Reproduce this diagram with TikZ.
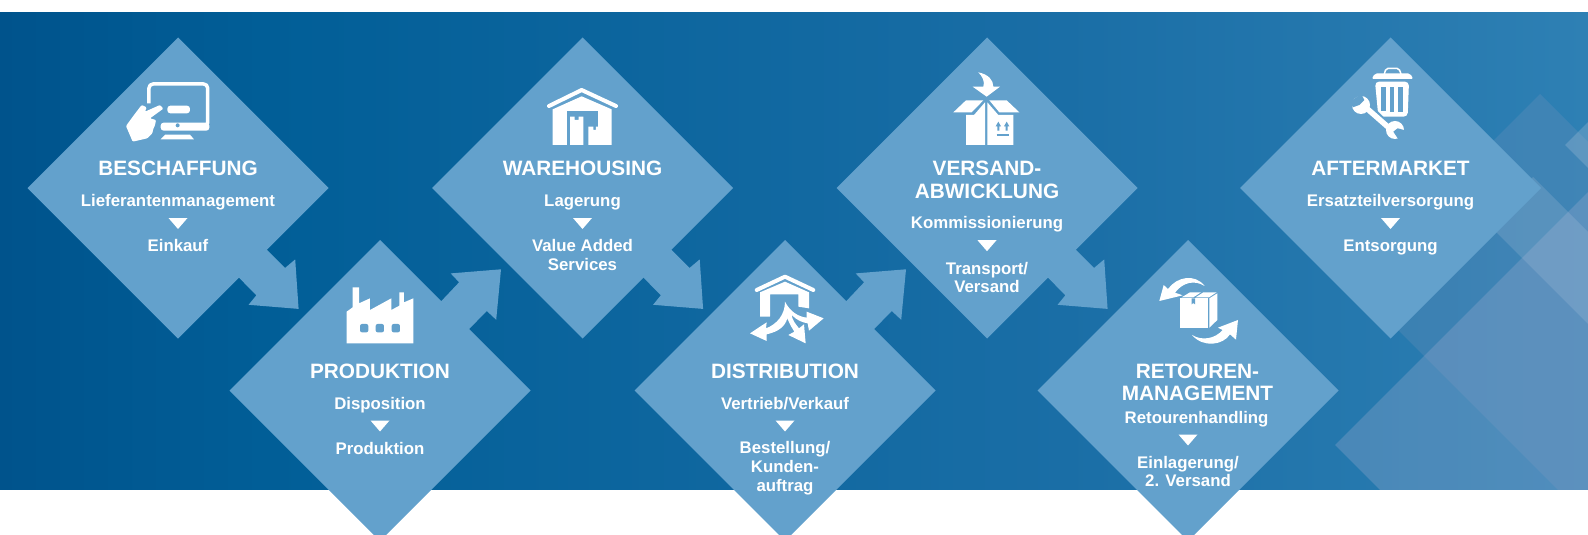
\documentclass[tikz,border=0pt]{standalone}
\usepackage{fontspec}
\setmainfont{Liberation Sans}
\usetikzlibrary{shapes.geometric,calc}
\definecolor{bgA}{RGB}{0,83,140}
\definecolor{bgB}{RGB}{1,94,151}
\definecolor{bgC}{RGB}{26,110,166}
\definecolor{bgD}{RGB}{46,128,180}
\definecolor{panel}{RGB}{99,161,204}
\definecolor{decoA}{RGB}{160,175,210}
\definecolor{decoB}{RGB}{120,150,190}
\definecolor{decoC}{RGB}{190,205,225}
\pgfdeclarehorizontalshading{bgshade}{100bp}{color(0bp)=(bgA); color(25bp)=(bgA); color(33.3bp)=(bgB); color(58.5bp)=(bgC); color(75bp)=(bgD); color(100bp)=(bgD)}
\tikzset{
  panelbox/.style={diamond,aspect=1,fill=panel,draw=none,inner sep=0pt,outer sep=0pt,minimum width=301pt,minimum height=301pt},
  headt/.style={text=white,anchor=base,inner sep=0pt,font=\fontsize{20.8}{22}\selectfont\bfseries},
  subt/.style={text=white,anchor=base,inner sep=0pt,font=\fontsize{16.8}{18}\selectfont\bfseries},
  ico/.style={x=0.3333pt,y=-0.3333pt},
  wh/.style={fill=white,draw=none},
  cut/.style={fill=panel,draw=none},
  roofline/.style={draw=white,line width=4pt,line cap=round,line join=round}
}
\newcommand{\arrowDown}[1]{\fill[panel] ([shift={(82,55)}]#1.center) -- ([shift={(107,80)}]#1.center) -- ([shift={(117.2,71.4)}]#1.center) -- ([shift={(120.6,120.9)}]#1.center) -- ([shift={(70.6,116.8)}]#1.center) -- ([shift={(78.4,107.2)}]#1.center) -- ([shift={(53.5,82.2)}]#1.center) -- cycle;}
\newcommand{\arrowUp}[1]{\fill[panel] ([shift={(54.8,-82.5)}]#1.center) -- ([shift={(79.1,-108.2)}]#1.center) -- ([shift={(70.7,-117.1)}]#1.center) -- ([shift={(121,-121.2)}]#1.center) -- ([shift={(116.2,-70.7)}]#1.center) -- ([shift={(106.8,-79.5)}]#1.center) -- ([shift={(81.9,-54.1)}]#1.center) -- cycle;}
\newcommand{\marker}[2]{\fill[white] ([shift={(-9.5,#2-5.5)}]#1.center) -- ([shift={(9.5,#2-5.5)}]#1.center) -- ([shift={(0,#2+5.5)}]#1.center) -- cycle;}
\begin{document}
\begin{tikzpicture}[x=1pt,y=-1pt]
\useasboundingbox (0,0) rectangle (1588,535);
\clip (0,0) rectangle (1588,535);
\shade[shading=bgshade] (0,12.5) rectangle (1588,489);
\begin{scope}
  \clip (0,12.5) rectangle (1588,489);
  \fill[decoB,opacity=.25] (1351,283) -- (1540,94) -- (1840,394) -- (1651,583) -- cycle;
  \fill[decoA,opacity=.3] (1335,445) -- (1635,145) -- (2035,545) -- (1735,845) -- cycle;
  \fill[decoC,opacity=.2] (1487,223) -- (1533,177) -- (1833,477) -- (1787,523) -- cycle;
  \fill[decoC,opacity=.25] (1565,145) -- (1665,45) -- (1765,145) -- (1665,245) -- cycle;
\end{scope}
% panels
\node[panelbox] (d1) at (178,188) {};
\node[panelbox] (d2) at (380,390.5) {};
\node[panelbox] (d3) at (582.5,188) {};
\node[panelbox] (d4) at (785,390.5) {};
\node[panelbox] (d5) at (987,188) {};
\node[panelbox] (d6) at (1188,390.5) {};
\node[panelbox] (d7) at (1390.5,188) {};
\arrowDown{d1}\arrowUp{d2}\arrowDown{d3}\arrowUp{d4}\arrowDown{d5}
% texts
\node[headt] (t1a) at ([shift={(0,-12.2)}]d1) {BESCHAFFUNG};
\node[subt] (t1b) at ([shift={(0,18.5)}]d1) {Lieferantenmanagement};
\marker{d1}{35.5}
\node[subt] (t1c) at ([shift={(0,63.5)}]d1) {Einkauf};
\node[headt] (t2a) at ([shift={(0,-12.2)}]d2) {PRODUKTION};
\node[subt] (t2b) at ([shift={(0,18.5)}]d2) {Disposition};
\marker{d2}{35.5}
\node[subt] (t2c) at ([shift={(0,63.5)}]d2) {Produktion};
\node[headt] (t3a) at ([shift={(0,-12.2)}]d3) {WAREHOUSING};
\node[subt] (t3b) at ([shift={(0,18.5)}]d3) {Lagerung};
\marker{d3}{35.5}
\node[subt] (t3c) at ([shift={(0,63.5)}]d3) {Value Added};
\node[subt] (t3d) at ([shift={(0,82.5)}]d3) {Services};
\node[headt] (t4a) at ([shift={(0,-12.2)}]d4) {DISTRIBUTION};
\node[subt] (t4b) at ([shift={(0,18.5)}]d4) {Vertrieb/Verkauf};
\marker{d4}{35.5}
\node[subt] (t4c) at ([shift={(0,63.1)}]d4) {Bestellung/};
\node[subt] (t4d) at ([shift={(0,82)}]d4) {Kunden-};
\node[subt] (t4e) at ([shift={(0,100.7)}]d4) {auftrag};
\node[headt] (t5a) at ([shift={(0,-12.2)}]d5) {VERSAND-};
\node[headt] (t5b) at ([shift={(0,10)}]d5) {ABWICKLUNG};
\node[subt] (t5c) at ([shift={(0,40.7)}]d5) {Kommissionierung};
\marker{d5}{57.7}
\node[subt] (t5d) at ([shift={(0,86)}]d5) {Transport/};
\node[subt] (t5e) at ([shift={(0,104.8)}]d5) {Versand};
\node[headt] (t6a) at ([shift={(9.5,-12.4)}]d6) {RETOUREN-};
\node[headt] (t6b) at ([shift={(9.5,9.5)}]d6) {MANAGEMENT};
\node[subt] (t6c) at ([shift={(8.6,33)}]d6) {Retourenhandling};
\marker{d6}{49.5}
\node[subt] (t6d) at ([shift={(0,77.8)}]d6) {Einlagerung/};
\node[subt] (t6e) at ([shift={(0,95.9)}]d6) {2. Versand};
\node[headt] (t7a) at ([shift={(0,-12.2)}]d7) {AFTERMARKET};
\node[subt] (t7b) at ([shift={(0,18.5)}]d7) {Ersatzteilversorgung};
\marker{d7}{35.5}
\node[subt] (t7c) at ([shift={(0,63.5)}]d7) {Entsorgung};
% icon 1: monitor and hand
\begin{scope}[shift={(110,70)},ico]
  \draw[white,line width=3.5pt,line join=round,rounded corners=4pt] (117,100) -- (117,42) -- (293,42) -- (293,170) -- (160,170);
  \fill[wh,rounded corners=3pt] (152,158) rectangle (298,182);
  \fill[cut] (203,166) circle (6);
  \fill[wh,rounded corners=3pt] (172,107) rectangle (240,130);
  \fill[wh] (166,194) -- (240,194) -- (252,208) -- (152,208) -- cycle;
  \fill[cut] (140,100) rectangle (150,155);
  \fill[wh,rounded corners=1pt] (48,168) -- (72,135) -- (95,105) -- (110,112) -- (105,125) -- (150,105) -- (160,116) -- (120,145) -- (138,150) -- (135,166) -- (130,176) -- (127,190) -- (112,205) -- (68,215) -- cycle;
\end{scope}
% icon 2: factory
\begin{scope}[shift={(330,275)},ico]
  \fill[wh] (50,205) -- (50,110) -- (68,97) -- (68,37) -- (87,37) -- (87,85) -- (120,70) -- (120,105) -- (184,70) -- (184,105) -- (208,92) -- (208,52) -- (222,52) -- (222,82) -- (250,70) -- (250,205) -- cycle;
  \fill[cut,rounded corners=2pt] (90,147) rectangle (115,172);
  \fill[cut,rounded corners=2pt] (137,147) rectangle (162,172);
  \fill[cut,rounded corners=2pt] (185,147) rectangle (210,172);
\end{scope}
% icon 3: warehouse
\begin{scope}[shift={(530,75)},ico]
  \draw[roofline] (57,93) -- (155,45) -- (258,93);
  \fill[wh] (68,103) -- (155,64) -- (245,103) -- (245,210) -- (68,210) -- cycle;
  \fill[cut] (110,108) rectangle (205,210);
  \fill[wh] (120,125) -- (134,125) -- (134,135) -- (146,135) -- (146,125) -- (160,125) -- (160,210) -- (120,210) -- cycle;
  \fill[wh] (175,155) -- (190,155) -- (190,165) -- (198,165) -- (198,155) -- (205,155) -- (218,155) -- (218,210) -- (175,210) -- cycle;
\end{scope}
% icon 4: distribution
\begin{scope}[shift={(735,265)},ico]
  \draw[roofline] (65,75) -- (150,35) -- (235,75);
  \fill[wh] (75,82) -- (150,50) -- (222,82) -- (222,130) -- (190,125) -- (190,88) -- (105,88) -- (105,155) -- (75,155) -- cycle;
  \fill[cut] (105,155) -- (150,120) -- (190,125) -- (190,155) -- cycle;
  \fill[wh] (150,110) .. controls (150,150) and (125,178) .. (93,190) -- (95,172) -- (45,205) -- (95,228) -- (95,208) .. controls (130,200) and (150,185) .. (157,160) .. controls (165,180) and (172,190) .. (178,200) -- (160,210) -- (212,235) -- (207,178) -- (192,190) .. controls (180,175) and (172,165) .. (170,150) .. controls (185,165) and (200,172) .. (218,175) -- (222,197) -- (266,160) -- (215,140) -- (215,158) .. controls (190,155) and (165,140) .. (150,110) -- cycle;
\end{scope}
% icon 5: parcel
\begin{scope}[shift={(930,65)},ico]
  \fill[wh] (145,22) .. controls (175,28) and (190,45) .. (190,65) -- (210,65) -- (170,95) -- (128,65) -- (160,65) .. controls (165,50) and (158,35) .. (145,22) -- cycle;
  \fill[wh] (70,142) -- (108,106) -- (160,106) -- (125,142) -- cycle;
  \fill[wh] (178,106) -- (230,106) -- (268,142) -- (208,142) -- cycle;
  \fill[wh] (108,150) -- (132,150) -- (165,112) -- (165,240) -- (108,240) -- cycle;
  \fill[wh] (172,112) -- (205,150) -- (250,150) -- (250,240) -- (172,240) -- cycle;
  \draw[panel,line width=1.3pt] (200,210) -- (238,210);
  \fill[cut] (205,170) -- (213,184) -- (208,184) -- (208,197) -- (202,197) -- (202,184) -- (197,184) -- cycle;
  \fill[cut] (230,170) -- (238,184) -- (233,184) -- (233,197) -- (227,197) -- (227,184) -- (222,184) -- cycle;
\end{scope}
% icon 6: returns
\begin{scope}[shift={(1130,265)},ico]
  \fill[wh] (150,100) rectangle (233,188);
  \fill[wh] (155,97) -- (180,82) -- (213,82) -- (190,97) -- cycle;
  \fill[wh] (197,97) -- (220,82) -- (260,82) -- (237,97) -- cycle;
  \fill[cut] (185,100) -- (195,100) -- (195,118) -- (190,114) -- (185,118) -- cycle;
  \fill[wh] (238,100) -- (262,85) -- (262,165) -- (238,188) -- cycle;
  \fill[wh] (88,108) -- (101,60) -- (114,72) .. controls (140,35) and (195,25) .. (224,63) .. controls (195,45) and (160,50) .. (135,83) -- (158,91) -- cycle;
  \fill[wh] (324,165) -- (318,224) -- (300,208) .. controls (280,240) and (220,250) .. (186,210) .. controls (215,228) and (255,222) .. (278,195) -- (264,188) -- cycle;
\end{scope}
% icon 7: bin and wrench
\begin{scope}[shift={(1325,60)},ico]
  \fill[wh,rounded corners=2pt] (140,57) -- (150,40) -- (255,40) -- (265,57) -- cycle;
  \draw[white,line width=1.5pt,rounded corners=2pt] (178,42) -- (183,25) -- (222,25) -- (228,42);
  \fill[wh,rounded corners=4pt] (150,65) -- (252,65) -- (248,170) -- (160,170) -- cycle;
  \fill[cut] (168,80) rectangle (182,152);
  \fill[cut] (194,80) rectangle (208,155);
  \fill[cut] (220,80) rectangle (234,155);
  \draw[panel,line width=7pt] (115,125) -- (205,215);
  \fill[cut] (95,130) circle (40);
  \draw[white,line width=5.5pt] (108,130) -- (205,215);
  \fill[wh] (108,135) circle (27);
  \fill[cut] (78,125) -- (108,100) -- (118,120) -- (103,135) -- (83,142) -- cycle;
  \fill[wh] (210,210) circle (27);
  \fill[cut] (205,215) -- (218,205) -- (245,212) -- (225,245) -- cycle;
\end{scope}
\end{tikzpicture}
\end{document}
